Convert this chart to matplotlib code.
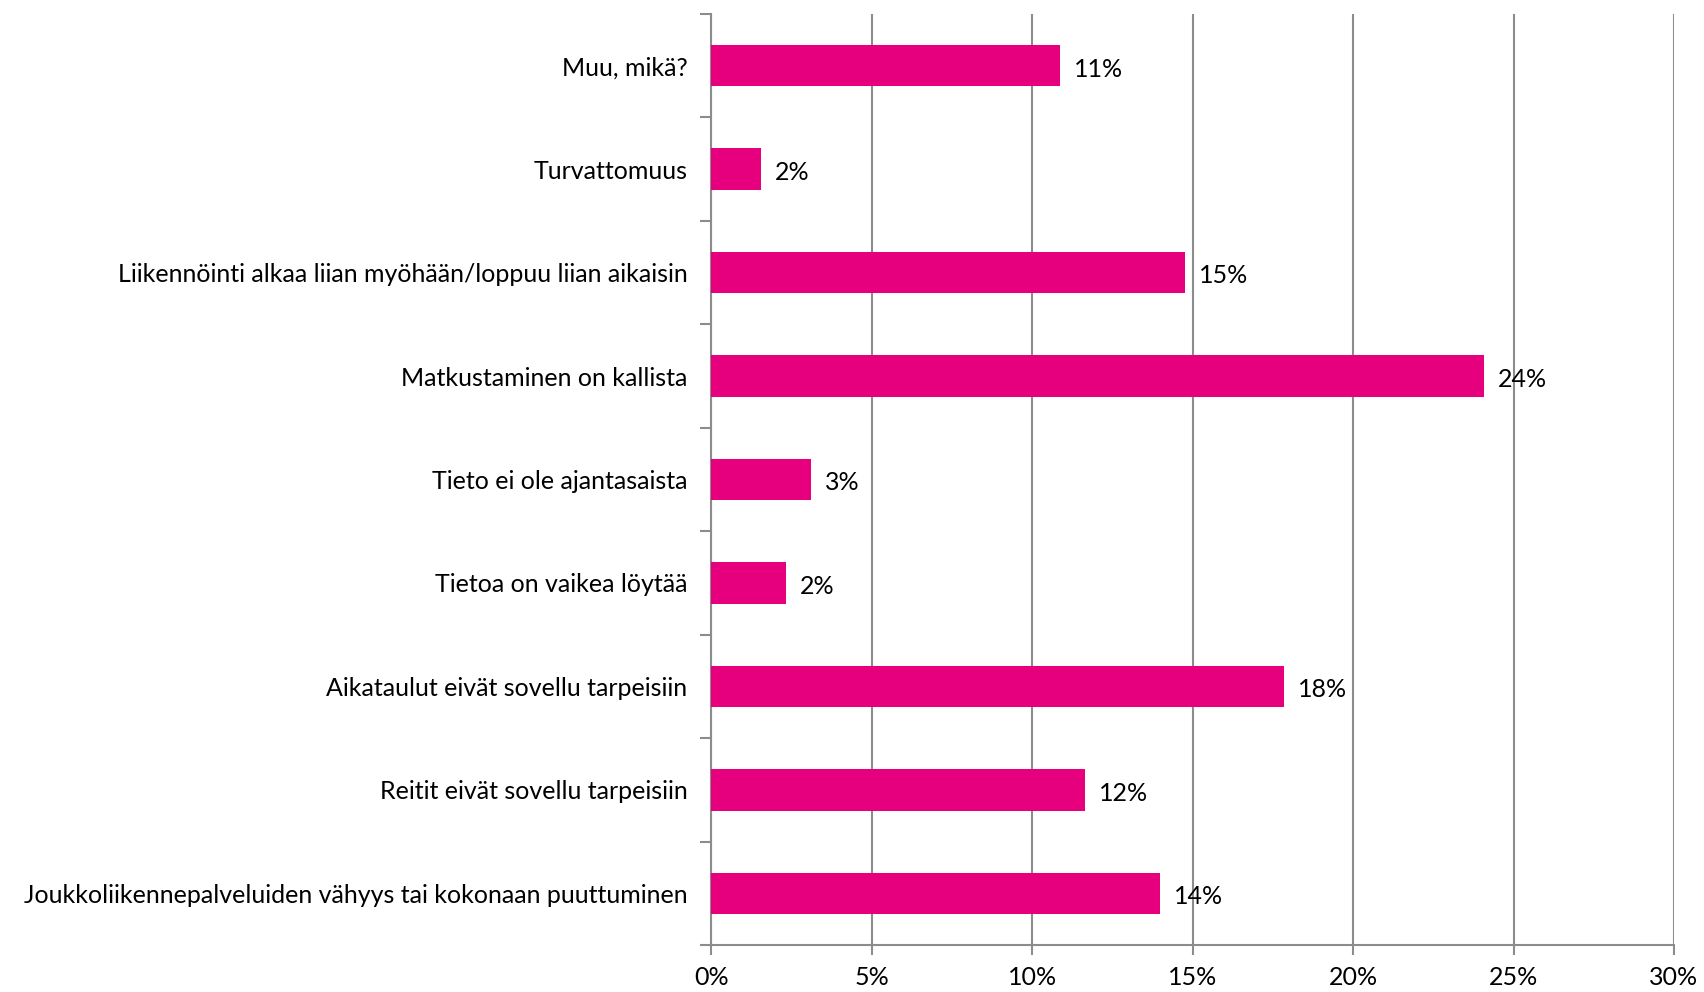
import numpy as np
import matplotlib.pyplot as plt
from matplotlib.ticker import FixedLocator

plt.rcParams['font.family'] = ['Lato', 'DejaVu Sans']

categories = ['Joukkoliikennepalveluiden vähyys tai kokonaan puuttuminen',
              'Reitit eivät sovellu tarpeisiin',
              'Aikataulut eivät sovellu tarpeisiin',
              'Tietoa on vaikea löytää',
              'Tieto ei ole ajantasaista',
              'Matkustaminen on kallista',
              'Liikennöinti alkaa liian myöhään/loppuu liian aikaisin',
              'Turvattomuus',
              'Muu, mikä?']
values = [13.99, 11.65, 17.85, 2.34, 3.12, 24.08, 14.76, 1.56, 10.87]
xticks = [0, 5, 10, 15, 20, 25, 30]

grey = '#8c8c8c'
fs = 18

fig = plt.figure(figsize=(17.04, 9.92), dpi=100)
ax = fig.add_axes([0.4173, 0.0474, 0.9824 - 0.4173, 0.9859 - 0.0474])

y = np.arange(len(categories))
ax.barh(y, values, height=0.40, color='#E6007E', zorder=3)

for yi, v in zip(y, values):
    ax.annotate('%d%%' % round(v), (v, yi), xytext=(10, -1), textcoords='offset points',
                va='center_baseline', ha='left', fontsize=fs)

ax.set_xlim(0, 30)
ax.set_ylim(-0.5, len(categories) - 0.5)
ax.set_xticks(xticks)
ax.set_xticklabels(['%d%%' % t for t in xticks], fontsize=fs)
ax.set_yticks(y)
ax.set_yticklabels(categories, fontsize=fs, va='center_baseline')
ax.yaxis.set_minor_locator(FixedLocator(np.arange(-0.5, len(categories), 1.0)))
ax.tick_params(axis='y', which='major', length=0, pad=17)
ax.tick_params(axis='y', which='minor', length=8, width=1.5, color=grey)
ax.tick_params(axis='x', length=7, width=1.5, color=grey, pad=8)

ax.grid(axis='x', color=grey, linewidth=1.5, zorder=0)
for s in ['top', 'right']:
    ax.spines[s].set_visible(False)
for s in ['left', 'bottom']:
    ax.spines[s].set_color(grey)
    ax.spines[s].set_linewidth(1.5)
ax.set_axisbelow(True)

plt.savefig('out.png', dpi=100)
